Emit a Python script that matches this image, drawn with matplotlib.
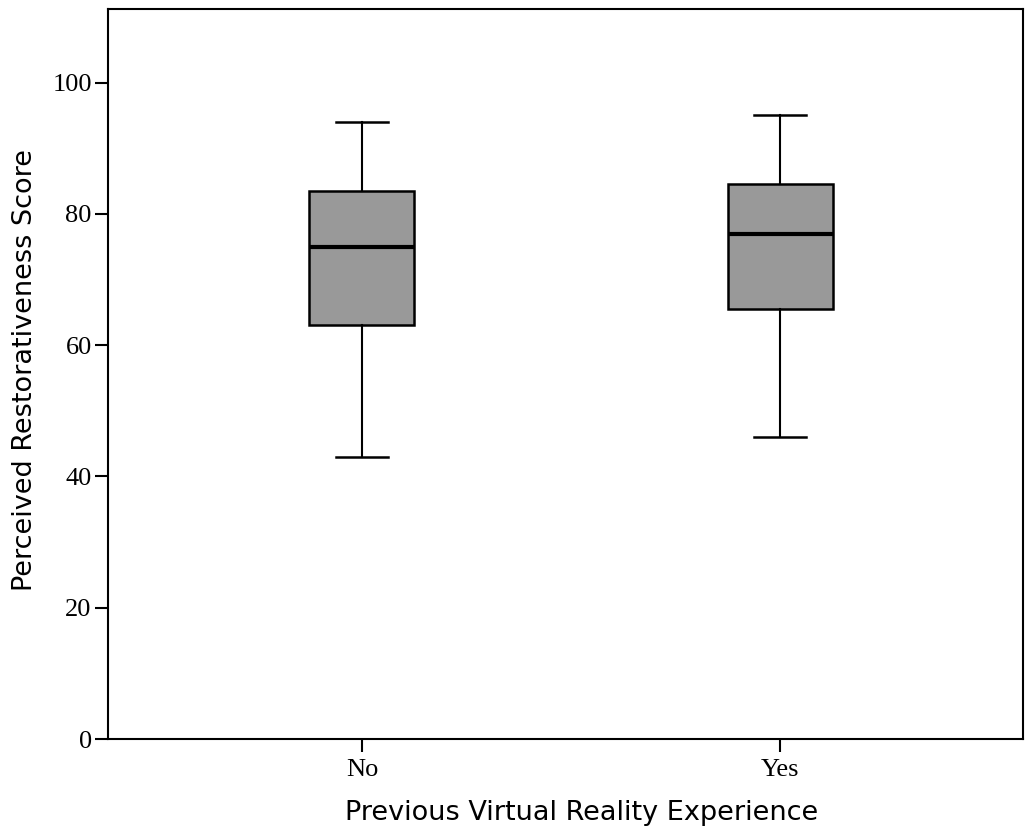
import matplotlib
matplotlib.use("Agg")
import matplotlib.pyplot as plt

# box summary per group (whisker low, Q1, median, Q3, whisker high)
groups = ["No", "Yes"]
whisker_low = [43, 46]
q1 = [63, 65.5]
median = [75, 77]
q3 = [83.5, 84.5]
whisker_high = [94, 95]

y_ticks = [0, 20, 40, 60, 80, 100]

# serif for tick numbers/categories, sans for axis titles
plt.rcParams["font.family"] = ["Liberation Serif", "DejaVu Serif"]

stats = []
for i, g in enumerate(groups):
    stats.append({
        "label": g,
        "whislo": whisker_low[i],
        "q1": q1[i],
        "med": median[i],
        "q3": q3[i],
        "whishi": whisker_high[i],
        "fliers": [],
    })

fig = plt.figure(figsize=(10.25, 8.27), dpi=100)
ax = fig.add_axes([107.7 / 1025, 1 - 739 / 827, (1023 - 107.7) / 1025, (739 - 9) / 827])

ax.bxp(
    stats, positions=[1, 2], widths=0.251, capwidths=0.124,
    patch_artist=True, showfliers=False,
    boxprops=dict(facecolor="#999999", edgecolor="black", linewidth=1.8),
    medianprops=dict(color="black", linewidth=3),
    whiskerprops=dict(color="black", linewidth=1.5),
    capprops=dict(color="black", linewidth=1.8),
)

ax.set_xlim(0.392, 2.581)
ax.set_ylim(0, 111.2)
ax.set_yticks(y_ticks)
ax.set_xticks([1, 2])
ax.set_xticklabels(groups)

for s in ax.spines.values():
    s.set_linewidth(1.5)
ax.tick_params(direction="out", length=9.5, width=1.5, labelsize=19)
ax.tick_params(axis="y", pad=2)
ax.tick_params(axis="x", pad=5)

ax.set_xlabel("Previous Virtual Reality Experience", fontsize=19.5,
              fontfamily="DejaVu Sans", va="baseline")
ax.set_ylabel("Perceived Restorativeness Score", fontsize=19.5,
              fontfamily="DejaVu Sans", va="baseline")
ax.xaxis.set_label_coords(0.518, -0.111)
ax.yaxis.set_label_coords(-0.0827, 0.505)

fig.savefig("out.png", dpi=100)
